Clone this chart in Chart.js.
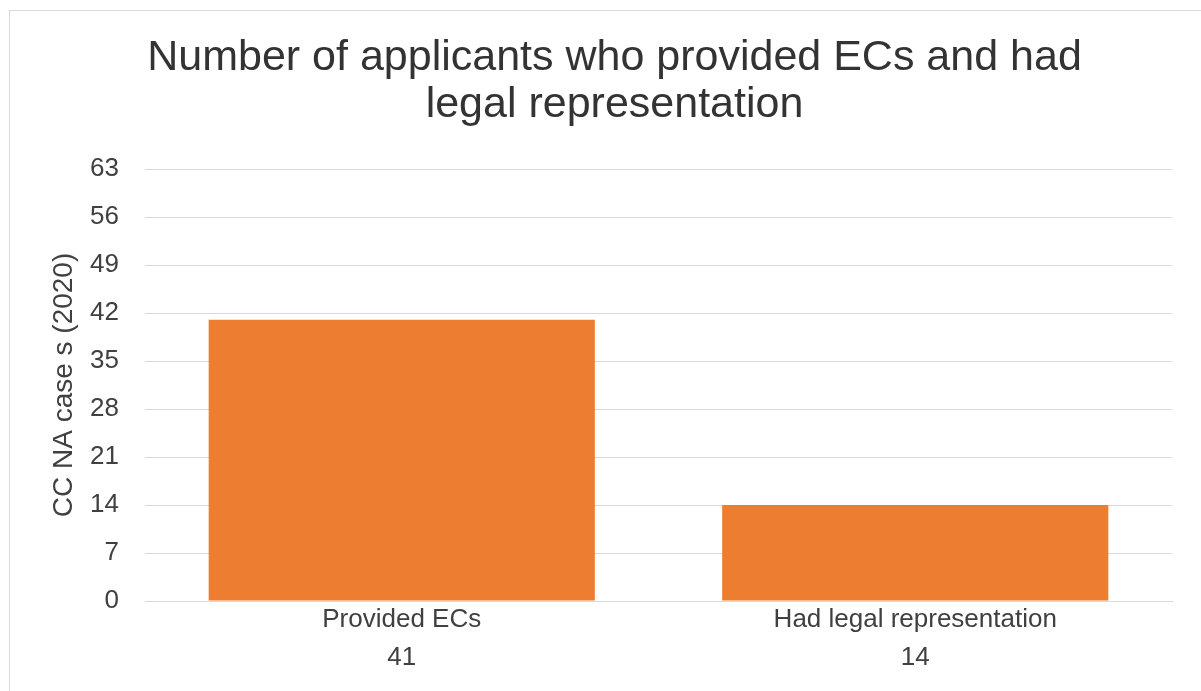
<!DOCTYPE html>
<html>
<head>
<meta charset="utf-8">
<script src="https://cdn.jsdelivr.net/npm/chart.js@4"></script>
<style>
  html, body { margin: 0; padding: 0; background: #fff; overflow: hidden; width: 1201px; height: 691px; }
  #frame { position: absolute; left: 9px; top: 10px; width: 1300px; height: 800px; border-left: 1px solid #d9d9d9; border-top: 1px solid #d9d9d9; }
  #c { position: absolute; left: 10px; top: 11px; }
</style>
</head>
<body>
<div id="frame"></div>
<canvas id="c" width="1210" height="680"></canvas>
<script>
const categories = ["Provided ECs", "Had legal representation"];
const values = [41, 14];
const titleLines = ["Number of applicants who provided ECs and had", "legal representation"];
const yAxisTitle = "CC NA case s (2020)";
const yMin = 0, yMax = 63, yStep = 7;

const FONT = "'Liberation Sans', Arial, sans-serif";
const labels = categories.map((c, i) => [c, String(values[i])]);

new Chart(document.getElementById('c'), {
  type: 'bar',
  data: {
    labels: labels,
    datasets: [{
      data: values,
      backgroundColor: '#ED7D31',
      borderWidth: 0,
      barPercentage: 0.752,
      categoryPercentage: 1.0
    }]
  },
  options: {
    responsive: false,
    animation: false,
    devicePixelRatio: 1,
    layout: { padding: { left: 47, right: 48, top: 0, bottom: 0 } },
    plugins: {
      legend: { display: false },
      tooltip: { enabled: false },
      title: {
        display: true,
        text: titleLines,
        color: '#333333',
        font: { family: FONT, size: 43, weight: 'normal', lineHeight: 47 / 43 },
        padding: { top: 24, bottom: 40 }
      }
    },
    scales: {
      x: {
        grid: { display: false, drawTicks: false },
        border: { display: true, color: '#d9d9d9', width: 1 },
        ticks: {
          color: '#404040',
          padding: 0,
          font: { family: FONT, size: 26, lineHeight: 38 / 26 },
          maxRotation: 0,
          autoSkip: false
        },
        afterFit: (s) => { s.height = 90; }
      },
      y: {
        min: yMin,
        max: yMax,
        grid: { color: '#d9d9d9', lineWidth: 1, drawTicks: false },
        border: { display: false },
        ticks: {
          stepSize: yStep,
          color: '#404040',
          padding: 26,
          font: { family: FONT, size: 26 }
        },
        title: {
          display: true,
          text: yAxisTitle,
          color: '#404040',
          font: { family: FONT, size: 28, lineHeight: 15 / 28 },
          padding: { top: 0, bottom: 0 }
        },
        afterFit: (s) => { s.width = 88; }
      }
    }
  }
});
</script>
</body>
</html>
